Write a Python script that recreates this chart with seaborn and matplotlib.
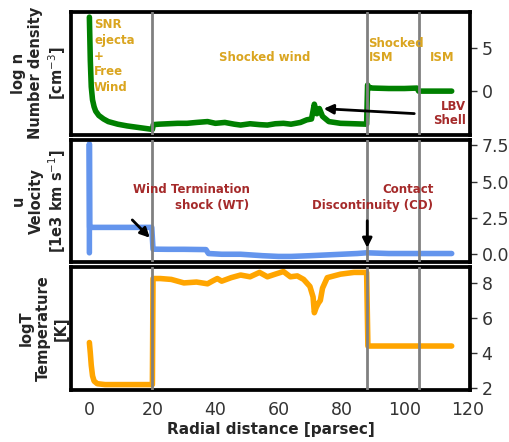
import numpy as np
import pandas as pd
import matplotlib
matplotlib.use("Agg")
import matplotlib.pyplot as plt
import seaborn as sns

# ---- data ----
r_n = [0, 0.15, 0.3, 0.6, 1, 1.5, 2, 3, 4.5, 6, 9, 12, 16, 20, 20.3, 22, 25, 28, 31, 34,
       37.5, 40, 43, 46, 48, 51, 54, 56.5, 59, 61.6, 64, 67, 69, 70.5, 71.4, 72.2, 73, 74,
       76, 79.7, 84, 88, 88.3, 88.8, 90, 95, 100, 104, 104.5, 110, 115]
logn = [8.5, 6, 3.5, 0.5, -1.0, -1.8, -2.3, -2.8, -3.2, -3.5, -3.8, -4.0, -4.2, -4.4, -3.85,
        -3.8, -3.75, -3.7, -3.7, -3.6, -3.5, -3.7, -3.6, -3.8, -3.9, -3.75, -3.85, -3.9,
        -3.75, -3.7, -3.8, -3.6, -3.3, -3.2, -1.5, -2.6, -2.0, -2.9, -3.5, -3.7, -3.75, -3.8,
        0.7, 0.4, 0.35, 0.3, 0.3, 0.35, 0.0, 0.0, 0.0]

r_u = [0, 0, 0.1, 5, 10, 15, 19.8, 20.2, 25, 30, 37, 37.8, 42, 48, 55, 60, 64, 70, 75, 80,
       85, 88, 95, 100, 105, 110, 115]
vel = [0.1, 7.6, 1.85, 1.85, 1.85, 1.85, 1.85, 0.35, 0.34, 0.34, 0.32, 0.05, 0.0, 0.0,
       -0.1, -0.15, -0.15, -0.1, -0.05, 0.0, 0.05, 0.1, 0.05, 0.05, 0.05, 0.05, 0.05]

r_T = [0, 0.3, 0.6, 1, 1.5, 2.5, 5, 10, 15, 20, 20.2, 22.5, 26, 30, 34, 37.5, 39, 40.6, 42,
       45, 48, 51, 54, 56.5, 59, 61.6, 63.8, 66, 68, 70, 71, 71.4, 72, 72.7, 73.3, 74, 75.5,
       79.7, 84, 88, 88.4, 95, 100, 105, 110, 115]
logT = [4.6, 4.0, 3.3, 2.7, 2.4, 2.25, 2.2, 2.2, 2.2, 2.2, 8.25, 8.25, 8.2, 8.0, 8.05, 7.95,
        8.1, 8.25, 8.1, 8.3, 8.45, 8.35, 8.6, 8.35, 8.5, 8.65, 8.35, 8.4, 8.2, 7.8, 7.2, 6.3,
        6.6, 6.85, 7.0, 7.7, 8.3, 8.5, 8.6, 8.6, 4.4, 4.4, 4.4, 4.4, 4.4, 4.4]

boundaries = [20, 88, 104.5]
xticks = [0, 20, 40, 60, 80, 100, 120]

GOLD = "#DAA520"
BROWN = "#A52A2A"

sns.set_style("white")
plt.rcParams['font.family'] = ['DejaVu Sans']

fig = plt.figure(figsize=(5.09, 4.42), dpi=100)
gs = fig.add_gridspec(3, 1, left=0.14, right=0.923, top=0.973, bottom=0.118, hspace=0.04)
axes = [fig.add_subplot(gs[i]) for i in range(3)]

df_n = pd.DataFrame({"r": r_n, "v": logn})
df_u = pd.DataFrame({"r": r_u, "v": vel})
df_T = pd.DataFrame({"r": r_T, "v": logT})

specs = [
    (df_n, "green", "log n\nNumber density\n[cm$^{-3}$]", (-5.0, 9.1), [0, 5]),
    (df_u, "#6495ED", "u\nVelocity\n[1e3 km s$^{-1}$]", (-0.55, 7.9), [0, 2.5, 5, 7.5]),
    (df_T, "orange", "logT\nTemperature\n[K]", (1.9, 8.9), [2, 4, 6, 8]),
]

for ax, (df, col, lab, yl, yt) in zip(axes, specs):
    sns.lineplot(data=df, x="r", y="v", ax=ax, color=col, lw=4, sort=False,
                 estimator=None, solid_capstyle='round')
    for b in boundaries:
        ax.axvline(b, color="gray", lw=2, zorder=3)
    ax.set_xlim(-5.75, 120.75)
    ax.set_ylim(*yl)
    ax.set_yticks(yt)
    ax.set_xticks(xticks)
    ax.yaxis.tick_right()
    ax.tick_params(axis='y', which='major', right=True, length=5, width=1,
                   labelsize=12.5, labelcolor='#333333', color='#333333')
    ax.set_ylabel(lab, fontsize=10.5, fontweight='bold', labelpad=2)
    ax.yaxis.set_label_position('left')
    for s in ax.spines.values():
        s.set_color('black')
        s.set_linewidth(2.7)
    if ax is not axes[2]:
        ax.tick_params(axis='x', labelbottom=False, length=0)
        ax.set_xlabel("")
    else:
        ax.tick_params(axis='x', length=0, labelsize=12.5, labelcolor='#333333', pad=8)
        ax.set_xlabel("Radial distance [parsec]", fontsize=11, fontweight='bold', labelpad=2)

ax1, ax2, ax3 = axes
fs = 8.5
ax1.text(1.5, 8.4, "SNR\nejecta\n+\nFree\nWind", color=GOLD, fontweight='bold',
         fontsize=fs, ha='left', va='top', linespacing=1.28)
ax1.text(55.5, 3.5, "Shocked wind", color=GOLD, fontweight='bold', fontsize=fs,
         ha='center', va='baseline')
ax1.text(88.6, 3.5, "Shocked\nISM", color=GOLD, fontweight='bold', fontsize=fs,
         ha='left', va='baseline', linespacing=1.1)
ax1.text(112, 3.5, "ISM", color=GOLD, fontweight='bold', fontsize=fs,
         ha='center', va='baseline')
ax1.text(119.5, -3.8, "LBV\nShell", color=BROWN, fontweight='bold', fontsize=fs,
         ha='right', va='baseline', linespacing=1.15)
ax1.annotate("", xy=(73.5, -2.0), xytext=(104, -2.6),
             arrowprops=dict(arrowstyle='-|>', color='black', lw=2, mutation_scale=14),
             zorder=5)

ax2.text(50.8, 3.1, "Wind Termination\nshock (WT)", color=BROWN, fontweight='bold',
         fontsize=fs, ha='right', va='baseline', linespacing=1.3)
ax2.annotate("", xy=(19.8, 1.0), xytext=(13, 2.5),
             arrowprops=dict(arrowstyle='-|>', color='black', lw=2, mutation_scale=14),
             zorder=5)
ax2.text(109.2, 3.1, "Contact\nDiscontinuity (CD)", color=BROWN, fontweight='bold',
         fontsize=fs, ha='right', va='baseline', linespacing=1.3)
ax2.annotate("", xy=(88.2, 0.25), xytext=(88.2, 2.5),
             arrowprops=dict(arrowstyle='-|>', color='black', lw=2, mutation_scale=14),
             zorder=5)

fig.savefig("out.png", dpi=100)
